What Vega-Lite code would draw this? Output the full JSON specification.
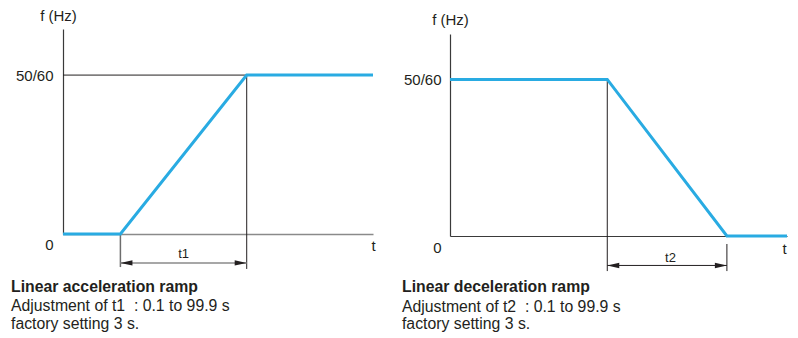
{
  "$schema": "https://vega.github.io/schema/vega-lite/v6.json",
  "padding": {"left": 10, "top": 8, "right": 0, "bottom": 0},
  "background": "white",
  "config": {
    "view": {"stroke": null},
    "font": "Liberation Sans",
    "text": {"font": "Liberation Sans", "fontSize": 15.8, "color": "#231f20"},
    "axis": {"labelFont": "Liberation Sans", "titleFont": "Liberation Sans", "labelFontSize": 15, "titleFontSize": 15, "labelColor": "#231f20", "titleColor": "#231f20", "titleFontWeight": "normal", "grid": false, "ticks": false},
    "concat": {"spacing": 22}
  },
  "hconcat": [
    {
      "width": 310,
      "height": 205,
      "layer": [
        {
          "data": {"values": [{"t": 0, "f": 50, "t2": 3.2}]},
          "mark": {"type": "rule", "color": "#231f20", "strokeWidth": 1},
          "encoding": {
            "x": {"field": "t", "type": "quantitative", "scale": {"domain": [0, 5.4], "nice": false}, "axis": {"domainColor": "#8a8a8a", "domainWidth": 1.5, "labels": false, "title": "t", "titleX": 310, "titleY": 11, "titleAlign": "center", "titleBaseline": "middle"}},
            "x2": {"field": "t2"},
            "y": {"field": "f", "type": "quantitative", "scale": {"domain": [0, 64.5], "nice": false}, "axis": {"values": [0, 50], "labelExpr": "datum.value == 50 ? '50/60' : '0'", "labelPadding": 10, "labelOffset": {"condition": {"test": "datum.value == 0", "value": 10}, "value": 0}, "domainColor": "#3a3a3a", "domainWidth": 1.2, "title": "f (Hz)", "titleAngle": 0, "titleX": -5, "titleY": -14, "titleAlign": "center", "titleBaseline": "middle"}}
          }
        },
        {
          "data": {"values": [{"t": 3.2, "f": 50, "f2": -11}]},
          "mark": {"type": "rule", "color": "#231f20", "strokeWidth": 1, "clip": false},
          "encoding": {"x": {"field": "t", "type": "quantitative"}, "y": {"field": "f", "type": "quantitative"}, "y2": {"field": "f2"}}
        },
        {
          "data": {"values": [{"t": 1, "f": 0, "f2": -10.4}]},
          "mark": {"type": "rule", "color": "#6d6d6d", "strokeWidth": 1.5, "clip": false},
          "encoding": {"x": {"field": "t", "type": "quantitative"}, "y": {"field": "f", "type": "quantitative"}, "y2": {"field": "f2"}}
        },
        {
          "data": {"values": [{"t": 1, "t2": 3.2, "f": -9.1}]},
          "mark": {"type": "rule", "color": "#8a8a8a", "strokeWidth": 1.5, "clip": false},
          "encoding": {"x": {"field": "t", "type": "quantitative"}, "x2": {"field": "t2"}, "y": {"field": "f", "type": "quantitative"}}
        },
        {
          "data": {"values": [{"t": 1, "f": -9.1, "dir": "left"}, {"t": 3.2, "f": -9.1, "dir": "right"}]},
          "mark": {"type": "point", "filled": true, "size": 144, "color": "#231f20", "opacity": 1, "clip": false},
          "encoding": {
            "x": {"field": "t", "type": "quantitative"},
            "y": {"field": "f", "type": "quantitative"},
            "shape": {"field": "dir", "type": "nominal", "scale": {"domain": ["left", "right"], "range": ["M0,0L2,-0.45L2,0.45Z", "M0,0L-2,-0.45L-2,0.45Z"]}, "legend": null}
          }
        },
        {
          "data": {"values": [{"t": 0, "f": 0}, {"t": 1, "f": 0}, {"t": 3.2, "f": 50}, {"t": 5.4, "f": 50}]},
          "mark": {"type": "line", "color": "#29abe2", "strokeWidth": 3, "clip": false},
          "encoding": {"x": {"field": "t", "type": "quantitative"}, "y": {"field": "f", "type": "quantitative"}}
        },
        {
          "data": {"values": [{"t": 2.1, "f": -7.55, "label": "t1"}]},
          "mark": {"type": "text", "align": "center", "baseline": "alphabetic", "fontSize": 13, "clip": false},
          "encoding": {"x": {"field": "t", "type": "quantitative"}, "y": {"field": "f", "type": "quantitative"}, "text": {"field": "label"}}
        },
        {
          "data": {"values": [{"t": -0.906, "f": -18.35, "label": "Linear acceleration ramp"}]},
          "mark": {"type": "text", "align": "left", "baseline": "alphabetic", "fontWeight": "bold", "clip": false},
          "encoding": {"x": {"field": "t", "type": "quantitative"}, "y": {"field": "f", "type": "quantitative"}, "text": {"field": "label"}}
        },
        {
          "data": {"values": [
            {"t": -0.906, "f": -24.1, "label": "Adjustment of t1\u00a0 : 0.1 to 99.9 s"},
            {"t": -0.906, "f": -29.8, "label": "factory setting 3 s."}
          ]},
          "mark": {"type": "text", "align": "left", "baseline": "alphabetic", "clip": false},
          "encoding": {"x": {"field": "t", "type": "quantitative"}, "y": {"field": "f", "type": "quantitative"}, "text": {"field": "label"}}
        }
      ]
    },
    {
      "width": 337,
      "height": 207,
      "layer": [
        {
          "data": {"values": [{"t": 2.8, "f": 50, "f2": -11.2}]},
          "mark": {"type": "rule", "color": "#231f20", "strokeWidth": 1, "clip": false},
          "encoding": {
            "x": {"field": "t", "type": "quantitative", "scale": {"domain": [0, 6], "nice": false}, "axis": {"domainColor": "#3a3a3a", "domainWidth": 1.2, "labels": false, "title": "t", "titleX": 334, "titleY": 12, "titleAlign": "center", "titleBaseline": "middle"}},
            "y": {"field": "f", "type": "quantitative", "scale": {"domain": [0, 64.5], "nice": false, "range": [207, 5]}, "axis": {"values": [0, 50], "labelExpr": "datum.value == 50 ? '50/60' : '0'", "labelPadding": 9, "labelOffset": {"condition": {"test": "datum.value == 0", "value": 11}, "value": 0}, "domainColor": "#3a3a3a", "domainWidth": 1.2, "title": "f (Hz)", "titleAngle": 0, "titleX": 0, "titleY": -10, "titleAlign": "center", "titleBaseline": "middle"}},
            "y2": {"field": "f2"}
          }
        },
        {
          "data": {"values": [{"t": 4.93, "f": -2.55, "f2": -11.2}]},
          "mark": {"type": "rule", "color": "#231f20", "strokeWidth": 1, "clip": false},
          "encoding": {"x": {"field": "t", "type": "quantitative"}, "y": {"field": "f", "type": "quantitative"}, "y2": {"field": "f2"}}
        },
        {
          "data": {"values": [{"t": 2.8, "t2": 4.93, "f": -9.4}]},
          "mark": {"type": "rule", "color": "#231f20", "strokeWidth": 1, "clip": false},
          "encoding": {"x": {"field": "t", "type": "quantitative"}, "x2": {"field": "t2"}, "y": {"field": "f", "type": "quantitative"}}
        },
        {
          "data": {"values": [{"t": 2.8, "f": -9.4, "dir": "left"}, {"t": 4.93, "f": -9.4, "dir": "right"}]},
          "mark": {"type": "point", "filled": true, "size": 144, "color": "#231f20", "opacity": 1, "clip": false},
          "encoding": {
            "x": {"field": "t", "type": "quantitative"},
            "y": {"field": "f", "type": "quantitative"},
            "shape": {"field": "dir", "type": "nominal", "scale": {"domain": ["left", "right"], "range": ["M0,0L2,-0.45L2,0.45Z", "M0,0L-2,-0.45L-2,0.45Z"]}, "legend": null}
          }
        },
        {
          "data": {"values": [{"t": 0, "f": 50}, {"t": 2.8, "f": 50}, {"t": 4.93, "f": 0}, {"t": 6, "f": 0}]},
          "mark": {"type": "line", "color": "#29abe2", "strokeWidth": 3, "clip": false},
          "encoding": {"x": {"field": "t", "type": "quantitative"}, "y": {"field": "f", "type": "quantitative"}}
        },
        {
          "data": {"values": [{"t": 3.925, "f": -8.2, "label": "t2"}]},
          "mark": {"type": "text", "align": "center", "baseline": "alphabetic", "fontSize": 13, "clip": false},
          "encoding": {"x": {"field": "t", "type": "quantitative"}, "y": {"field": "f", "type": "quantitative"}, "text": {"field": "label"}}
        },
        {
          "data": {"values": [{"t": -0.855, "f": -17.98, "label": "Linear deceleration ramp"}]},
          "mark": {"type": "text", "align": "left", "baseline": "alphabetic", "fontWeight": "bold", "clip": false},
          "encoding": {"x": {"field": "t", "type": "quantitative"}, "y": {"field": "f", "type": "quantitative"}, "text": {"field": "label"}}
        },
        {
          "data": {"values": [
            {"t": -0.855, "f": -24.27, "label": "Adjustment of t2\u00a0 : 0.1 to 99.9 s"},
            {"t": -0.855, "f": -29.7, "label": "factory setting 3 s."}
          ]},
          "mark": {"type": "text", "align": "left", "baseline": "alphabetic", "clip": false},
          "encoding": {"x": {"field": "t", "type": "quantitative"}, "y": {"field": "f", "type": "quantitative"}, "text": {"field": "label"}}
        }
      ]
    }
  ]
}
